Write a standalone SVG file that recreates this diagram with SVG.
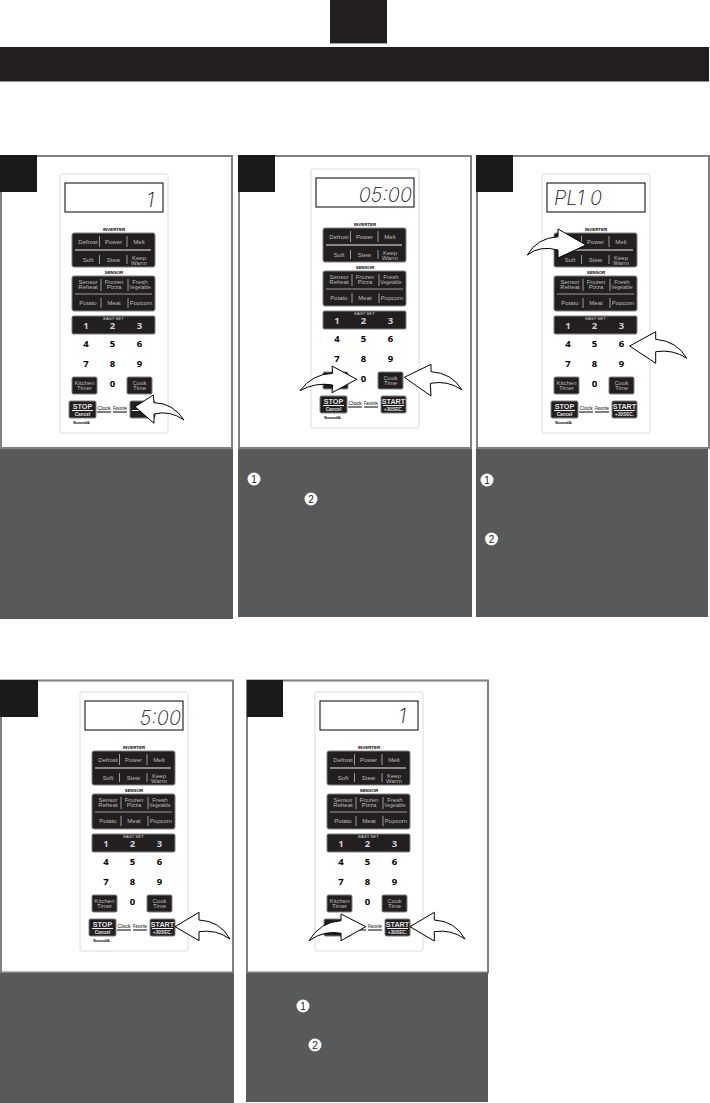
<svg xmlns="http://www.w3.org/2000/svg" xmlns:xlink="http://www.w3.org/1999/xlink" width="710" height="1103" viewBox="0 0 710 1103">
<style>
text{font-family:"Liberation Sans",Arial,sans-serif;text-anchor:middle}
.frame{fill:#fff;stroke:#808080;stroke-width:2}
.tab{fill:#1a1a1a}
.cap{fill:#58595b}
.pad{fill:#fff;stroke:#d0d0d0;stroke-width:.8}
.disp{fill:#fff;stroke:#000;stroke-width:1}
.btn{fill:#231f20;stroke:#808080;stroke-width:1}
.div{stroke:#cfcfcf;stroke-width:.7;fill:none}
.dw{stroke:#f0f0f0;stroke-width:1;fill:none}
.k{fill:#bdbdbd;font-size:6px}
.ks{fill:#bdbdbd;font-size:4.8px}
.h{fill:#000;font-size:4.4px;font-weight:bold}
.e{fill:#d8d8d8;font-size:4.2px}
.n{fill:#000;font-family:"Open Sans",sans-serif;font-weight:700;font-size:9.5px}
.nl{fill:#d0d0d0;font-family:"Open Sans",sans-serif;font-weight:700;font-size:9.5px}
.st{fill:#e0e0e0;font-weight:bold;font-size:7.2px}
.sm{fill:#e0e0e0;font-weight:bold;font-size:4.8px}
.c{fill:#000;font-size:5.2px}
.t{fill:#000;font-size:4.4px;font-weight:bold}
.seg{fill:#111;font-family:"Inter",sans-serif;font-weight:200;font-style:italic;font-size:20px;text-anchor:end}
.num{fill:#fff}
.nt{fill:#222;font-size:10px}
.arrow{fill:#fff;stroke:#000;stroke-width:1;stroke-linejoin:miter}
</style>
<defs>
<g id="kp">
<rect class="pad" x="0" y="0" width="108" height="259" rx="2"/>
<rect class="disp" x="5" y="9" width="98" height="29"/>
<rect class="btn" x="12" y="59" width="83" height="34" rx="2"/>
<path class="dw" d="M15 76H91"/>
<path class="div" d="M39.500 62V73M67 62V73M39.500 81V90M67 81V90"/>
<rect class="btn" x="12" y="102" width="83" height="35" rx="2"/>
<path class="div" d="M15 120H92M41 105V117M68 105V117M41 124V134M68 124V134"/>
<rect class="btn" x="12" y="142" width="83" height="18" rx="1.500"/>
<rect class="btn" x="12" y="203" width="25" height="17" rx="1.500"/>
<rect class="btn" x="67" y="203" width="25" height="17" rx="1.500"/>
<rect class="btn" x="9" y="227" width="27" height="17" rx="1.500"/>
<rect class="btn" x="70" y="227" width="25" height="17" rx="1.500"/>
<path class="dw" d="M12 236.500H33M72 236.500H93"/>
<path d="M37 238H51M53 238H67" stroke="#000" stroke-width="1" fill="none"/>
</g>
</defs>
<g id="header">
<rect x="330" y="0" width="57" height="43" fill="#231f20"/>
<rect x="330" y="43" width="57" height="1" fill="#a0a0a0"/>
<rect x="0" y="47" width="709" height="34.500" fill="#231f20"/>
</g>
<g id="step1">
<rect class="frame" x="1" y="156" width="231" height="292"/>
<rect class="tab" x="0" y="155" width="37" height="37"/>
<rect class="cap" x="0" y="449" width="233" height="170"/>
<g transform="translate(60,174)">
<use href="#kp"/>
<text class="seg" x="94" y="33">1</text>
<text class="h" x="54" y="57">INVERTER</text>
<text class="k" x="28" y="70">Defrost</text><text class="k" x="53.500" y="70">Power</text><text class="k" x="79" y="70">Melt</text>
<text class="k" x="28" y="88">Soft</text><text class="k" x="53.500" y="88">Stew</text><text class="k" x="79" y="85.500">Keep</text><text class="k" x="79" y="91">Warm</text>
<text class="h" x="54" y="100">SENSOR</text>
<text class="k" x="28" y="110">Sensor</text><text class="k" x="28" y="115">Reheat</text><text class="k" x="54" y="110">Frozen</text><text class="k" x="54" y="115">Pizza</text><text class="k" x="80" y="110">Fresh</text><text class="ks" x="80" y="114.500">Vegetable</text>
<text class="k" x="28" y="131">Potato</text><text class="k" x="54" y="131">Meat</text><text class="k" x="81" y="131">Popcorn</text>
<text class="e" x="53.500" y="145.500">EASY SET</text>
<text class="nl" x="26" y="155">1</text><text class="nl" x="52.500" y="155">2</text><text class="nl" x="79.500" y="155">3</text>
<text class="n" x="26" y="173">4</text><text class="n" x="52.500" y="173">5</text><text class="n" x="79.500" y="173">6</text>
<text class="n" x="26" y="193">7</text><text class="n" x="52.500" y="193">8</text><text class="n" x="79.500" y="193">9</text>
<text class="n" x="52.500" y="213">0</text>
<text class="k" x="24.500" y="210.500">Kitchen</text><text class="k" x="24.500" y="216">Timer</text>
<text class="k" x="79.500" y="210.500">Cook</text><text class="k" x="79.500" y="216">Time</text>
<text class="st" x="22.500" y="235">STOP</text><text class="sm" x="22.500" y="242">Cancel</text>
<text class="c" x="44" y="236">Clock</text><text class="c" x="60" y="236" textLength="14" lengthAdjust="spacingAndGlyphs">Favorite</text>
<text class="t" x="21.500" y="250">Sound&amp;</text>
</g>
</g>
<g id="step2">
<rect class="frame" x="239" y="156" width="232" height="292"/>
<rect class="tab" x="238" y="155" width="37" height="37"/>
<rect class="cap" x="238" y="449" width="234" height="168"/>
<circle class="num" cx="254" cy="479" r="6.500"/><text class="nt" x="254" y="482.500">1</text>
<circle class="num" cx="311" cy="499" r="6.500"/><text class="nt" x="311" y="502.500">2</text>
<g transform="translate(311,169)">
<use href="#kp"/>
<text class="seg" x="101" y="33">05:00</text>
<text class="h" x="54" y="57">INVERTER</text>
<text class="k" x="28" y="70">Defrost</text><text class="k" x="53.500" y="70">Power</text><text class="k" x="79" y="70">Melt</text>
<text class="k" x="28" y="88">Soft</text><text class="k" x="53.500" y="88">Stew</text><text class="k" x="79" y="85.500">Keep</text><text class="k" x="79" y="91">Warm</text>
<text class="h" x="54" y="100">SENSOR</text>
<text class="k" x="28" y="110">Sensor</text><text class="k" x="28" y="115">Reheat</text><text class="k" x="54" y="110">Frozen</text><text class="k" x="54" y="115">Pizza</text><text class="k" x="80" y="110">Fresh</text><text class="ks" x="80" y="114.500">Vegetable</text>
<text class="k" x="28" y="131">Potato</text><text class="k" x="54" y="131">Meat</text><text class="k" x="81" y="131">Popcorn</text>
<text class="e" x="53.500" y="145.500">EASY SET</text>
<text class="nl" x="26" y="155">1</text><text class="nl" x="52.500" y="155">2</text><text class="nl" x="79.500" y="155">3</text>
<text class="n" x="26" y="173">4</text><text class="n" x="52.500" y="173">5</text><text class="n" x="79.500" y="173">6</text>
<text class="n" x="26" y="193">7</text><text class="n" x="52.500" y="193">8</text><text class="n" x="79.500" y="193">9</text>
<text class="n" x="52.500" y="213">0</text>
<text class="k" x="79.500" y="210.500">Cook</text><text class="k" x="79.500" y="216">Time</text>
<text class="st" x="22.500" y="235">STOP</text><text class="sm" x="22.500" y="242">Cancel</text>
<text class="c" x="44" y="236">Clock</text><text class="c" x="60" y="236" textLength="14" lengthAdjust="spacingAndGlyphs">Favorite</text>
<text class="st" x="82.500" y="235">START</text><text class="sm" x="82.500" y="242">+30SEC.</text>
<text class="t" x="21.500" y="250">Sound&amp;</text>
</g>
</g>
<g id="step3">
<rect class="frame" x="477" y="156" width="232" height="292"/>
<rect class="tab" x="476" y="155" width="37" height="37"/>
<rect class="cap" x="476" y="449" width="232" height="168"/>
<circle class="num" cx="487" cy="480" r="6.500"/><text class="nt" x="487" y="483.500">1</text>
<circle class="num" cx="491.500" cy="539" r="6.500"/><text class="nt" x="491.500" y="542.500">2</text>
<g transform="translate(542,174)">
<use href="#kp"/>
<text class="seg" x="60" y="31">PL1 0</text>
<text class="h" x="54" y="57">INVERTER</text>
<text class="k" x="53.500" y="70">Power</text><text class="k" x="79" y="70">Melt</text>
<text class="k" x="28" y="88">Soft</text><text class="k" x="53.500" y="88">Stew</text><text class="k" x="79" y="85.500">Keep</text><text class="k" x="79" y="91">Warm</text>
<text class="h" x="54" y="100">SENSOR</text>
<text class="k" x="28" y="110">Sensor</text><text class="k" x="28" y="115">Reheat</text><text class="k" x="54" y="110">Frozen</text><text class="k" x="54" y="115">Pizza</text><text class="k" x="80" y="110">Fresh</text><text class="ks" x="80" y="114.500">Vegetable</text>
<text class="k" x="28" y="131">Potato</text><text class="k" x="54" y="131">Meat</text><text class="k" x="81" y="131">Popcorn</text>
<text class="e" x="53.500" y="145.500">EASY SET</text>
<text class="nl" x="26" y="155">1</text><text class="nl" x="52.500" y="155">2</text><text class="nl" x="79.500" y="155">3</text>
<text class="n" x="26" y="173">4</text><text class="n" x="52.500" y="173">5</text><text class="n" x="79.500" y="173">6</text>
<text class="n" x="26" y="193">7</text><text class="n" x="52.500" y="193">8</text><text class="n" x="79.500" y="193">9</text>
<text class="n" x="52.500" y="213">0</text>
<text class="k" x="24.500" y="210.500">Kitchen</text><text class="k" x="24.500" y="216">Timer</text>
<text class="k" x="79.500" y="210.500">Cook</text><text class="k" x="79.500" y="216">Time</text>
<text class="st" x="22.500" y="235">STOP</text><text class="sm" x="22.500" y="242">Cancel</text>
<text class="c" x="44" y="236">Clock</text><text class="c" x="60" y="236" textLength="14" lengthAdjust="spacingAndGlyphs">Favorite</text>
<text class="st" x="82.500" y="235">START</text><text class="sm" x="82.500" y="242">+30SEC.</text>
<text class="t" x="21.500" y="250">Sound&amp;</text>
</g>
</g>
<g id="step4">
<rect class="frame" x="1" y="680.500" width="232" height="292"/>
<rect class="tab" x="0" y="680" width="38" height="37"/>
<rect class="cap" x="0" y="973" width="234" height="130"/>
<g transform="translate(80,692)">
<use href="#kp"/>
<text class="seg" x="101" y="33">5:00</text>
<text class="h" x="54" y="57">INVERTER</text>
<text class="k" x="28" y="70">Defrost</text><text class="k" x="53.500" y="70">Power</text><text class="k" x="79" y="70">Melt</text>
<text class="k" x="28" y="88">Soft</text><text class="k" x="53.500" y="88">Stew</text><text class="k" x="79" y="85.500">Keep</text><text class="k" x="79" y="91">Warm</text>
<text class="h" x="54" y="100">SENSOR</text>
<text class="k" x="28" y="110">Sensor</text><text class="k" x="28" y="115">Reheat</text><text class="k" x="54" y="110">Frozen</text><text class="k" x="54" y="115">Pizza</text><text class="k" x="80" y="110">Fresh</text><text class="ks" x="80" y="114.500">Vegetable</text>
<text class="k" x="28" y="131">Potato</text><text class="k" x="54" y="131">Meat</text><text class="k" x="81" y="131">Popcorn</text>
<text class="e" x="53.500" y="145.500">EASY SET</text>
<text class="nl" x="26" y="155">1</text><text class="nl" x="52.500" y="155">2</text><text class="nl" x="79.500" y="155">3</text>
<text class="n" x="26" y="173">4</text><text class="n" x="52.500" y="173">5</text><text class="n" x="79.500" y="173">6</text>
<text class="n" x="26" y="193">7</text><text class="n" x="52.500" y="193">8</text><text class="n" x="79.500" y="193">9</text>
<text class="n" x="52.500" y="213">0</text>
<text class="k" x="24.500" y="210.500">Kitchen</text><text class="k" x="24.500" y="216">Timer</text>
<text class="k" x="79.500" y="210.500">Cook</text><text class="k" x="79.500" y="216">Time</text>
<text class="st" x="22.500" y="235">STOP</text><text class="sm" x="22.500" y="242">Cancel</text>
<text class="c" x="44" y="236">Clock</text><text class="c" x="60" y="236" textLength="14" lengthAdjust="spacingAndGlyphs">Favorite</text>
<text class="st" x="82.500" y="235">START</text><text class="sm" x="82.500" y="242">+30SEC.</text>
<text class="t" x="21.500" y="250">Sound&amp;</text>
</g>
</g>
<g id="step5">
<rect class="frame" x="247" y="680.500" width="241" height="292"/>
<rect class="tab" x="247" y="680" width="36" height="37"/>
<rect class="cap" x="246" y="973" width="242" height="129"/>
<circle class="num" cx="303" cy="1006" r="6.500"/><text class="nt" x="303" y="1009.500">1</text>
<circle class="num" cx="315" cy="1045" r="6.500"/><text class="nt" x="315" y="1048.500">2</text>
<g transform="translate(315,692)">
<use href="#kp"/>
<text class="seg" x="91" y="31">1</text>
<text class="h" x="54" y="57">INVERTER</text>
<text class="k" x="28" y="70">Defrost</text><text class="k" x="53.500" y="70">Power</text><text class="k" x="79" y="70">Melt</text>
<text class="k" x="28" y="88">Soft</text><text class="k" x="53.500" y="88">Stew</text><text class="k" x="79" y="85.500">Keep</text><text class="k" x="79" y="91">Warm</text>
<text class="h" x="54" y="100">SENSOR</text>
<text class="k" x="28" y="110">Sensor</text><text class="k" x="28" y="115">Reheat</text><text class="k" x="54" y="110">Frozen</text><text class="k" x="54" y="115">Pizza</text><text class="k" x="80" y="110">Fresh</text><text class="ks" x="80" y="114.500">Vegetable</text>
<text class="k" x="28" y="131">Potato</text><text class="k" x="54" y="131">Meat</text><text class="k" x="81" y="131">Popcorn</text>
<text class="e" x="53.500" y="145.500">EASY SET</text>
<text class="nl" x="26" y="155">1</text><text class="nl" x="52.500" y="155">2</text><text class="nl" x="79.500" y="155">3</text>
<text class="n" x="26" y="173">4</text><text class="n" x="52.500" y="173">5</text><text class="n" x="79.500" y="173">6</text>
<text class="n" x="26" y="193">7</text><text class="n" x="52.500" y="193">8</text><text class="n" x="79.500" y="193">9</text>
<text class="n" x="52.500" y="213">0</text>
<text class="k" x="24.500" y="210.500">Kitchen</text><text class="k" x="24.500" y="216">Timer</text>
<text class="k" x="79.500" y="210.500">Cook</text><text class="k" x="79.500" y="216">Time</text>
<text class="c" x="60" y="236" textLength="14" lengthAdjust="spacingAndGlyphs">Favorite</text>
<text class="st" x="82.500" y="235">START</text><text class="sm" x="82.500" y="242">+30SEC.</text>
</g>
</g>
<g id="connectors">
<path class="arrow" d="M135 406.700L153.300 395L154 402.700Q173 403 184 420Q170 410 154 414L154 423.300Z"/>
<path class="arrow" d="M356.700 379.300L332 366L332.700 373.300Q312 374 300 390.700Q315 382 332.700 385L332 392.700Z"/>
<path class="arrow" d="M404.300 377.300L431 364.300L431 371.700Q452 373 462 390Q448 380 430.300 383.300L431 396Z"/>
<path class="arrow" d="M586 245L558 229L558 236.700Q537 238 527.300 255Q540 245 558 250L558 258Z"/>
<path class="arrow" d="M629.700 346L655.700 331.700L655.700 339.300Q677 341 686.700 358.300Q673 349 655.700 351.700L655.700 363.300Z"/>
<path class="arrow" d="M175 926.700L199 912.300L199 920Q220 921 230 939Q216 929 199 931.700L199 940.700Z"/>
<path class="arrow" d="M365.700 926.700L341 914L341 920.700Q320 922 309 940.700Q324 930 341 933.300L341 940.700Z"/>
<path class="arrow" d="M410 926.700L434.300 912.300L434.300 920Q455 921 465 939Q451 929 434.300 931.700L434.300 941Z"/>
</g>
</svg>
